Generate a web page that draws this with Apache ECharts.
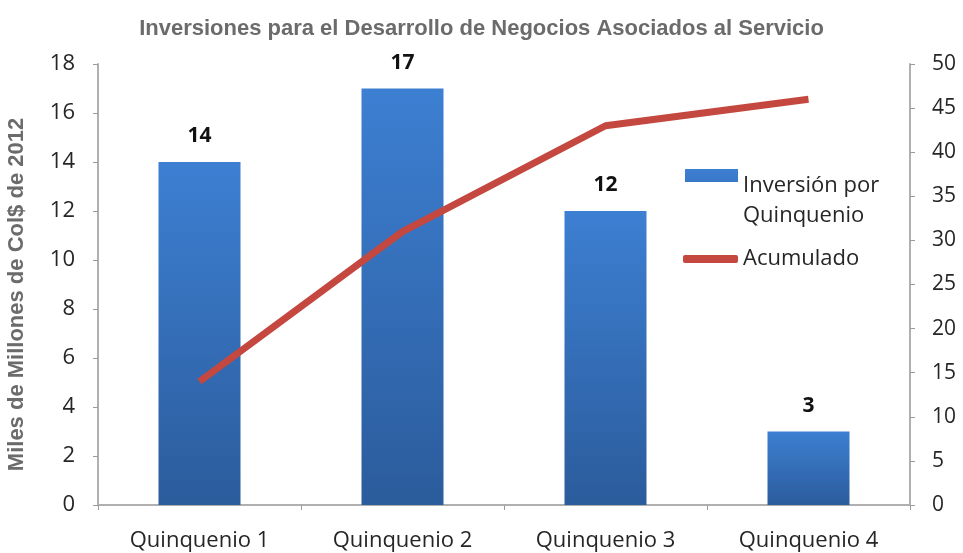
<!DOCTYPE html>
<html><head><meta charset="utf-8">
<script src="https://cdn.jsdelivr.net/npm/echarts@6/dist/echarts.min.js"></script>
<style>html,body{margin:0;padding:0;background:#fff}#c{width:963px;height:553px}</style>
</head><body><div id="c"></div>
<script>
const categories = ['Quinquenio 1','Quinquenio 2','Quinquenio 3','Quinquenio 4'];
const inversion = [14, 17, 12, 3];
const acumulado = [14, 31, 43, 46];
const leftTicks = {min:0, max:18, interval:2};
const rightTicks = {min:0, max:50, interval:5};

const chart = echarts.init(document.getElementById('c'));
chart.setOption({
  animation:false,
  title:{text:'Inversiones para el Desarrollo de Negocios Asociados al Servicio', left:'center', top:13,
    textStyle:{fontFamily:'Liberation Sans', fontWeight:'bold', fontSize:22, color:'#6b6b6b'}},
  grid:{left:98, right:53, top:64, bottom:48, containLabel:false, outerBoundsMode:'none'},
  legend:[
    {data:[{name:'Inversión por\nQuinquenio', icon:'path://M0,0L53,0L53,13L0,13Z M0,64L0.01,64L0,64Z'}], left:680, top:164, itemWidth:53, itemHeight:64, itemGap:4,
     textStyle:{fontFamily:'Open Sans', fontSize:22, color:'#262626', lineHeight:30}},
    {data:[{name:'Acumulado', icon:'roundRect'}], left:678, top:243, itemWidth:55, itemHeight:8, itemGap:4,
     textStyle:{fontFamily:'Open Sans', fontSize:22, color:'#262626'}}
  ],
  xAxis:{type:'category', data:categories,
    axisLine:{lineStyle:{color:'#b0b0b0', width:2}},
    axisTick:{show:true, length:5, lineStyle:{color:'#9a9a9a'}},
    axisLabel:{margin:25, fontFamily:'Open Sans', fontSize:22, color:'#262626'}},
  yAxis:[
    {type:'value', min:leftTicks.min, max:leftTicks.max, interval:leftTicks.interval,
     name:'Miles de Millones de Col$ de 2012', nameLocation:'middle', nameGap:70, nameRotate:90,
     nameTextStyle:{fontFamily:'Liberation Sans', fontWeight:'bold', fontSize:22, color:'#6b6b6b', padding:[0,20,0,0]},
     axisLine:{show:true, lineStyle:{color:'#b0b0b0', width:2}},
     axisTick:{show:true, length:5, lineStyle:{color:'#9a9a9a'}},
     splitLine:{show:false},
     axisLabel:{margin:23, fontFamily:'Open Sans', fontSize:22, color:'#262626'}},
    {type:'value', min:rightTicks.min, max:rightTicks.max, interval:rightTicks.interval, position:'right',
     axisLine:{show:true, lineStyle:{color:'#b0b0b0', width:2}},
     axisTick:{show:true, length:5, lineStyle:{color:'#9a9a9a'}},
     splitLine:{show:false},
     axisLabel:{margin:22, fontFamily:'Open Sans', fontSize:21, color:'#262626'}}
  ],
  series:[
    {name:'Inversión por\nQuinquenio', type:'bar', data:inversion, barWidth:82, yAxisIndex:0,
     itemStyle:{color:new echarts.graphic.LinearGradient(0,0,0,1,[{offset:0,color:'#3d7fd2'},{offset:1,color:'#2b5c9c'}])},
     label:{show:true, position:'top', distance:15, fontFamily:'Open Sans', fontWeight:'bold', fontSize:21, color:'#111'}},
    {name:'Acumulado', type:'line', data:acumulado, yAxisIndex:1, symbol:'none',
     lineStyle:{color:'#c4483f', width:7}, itemStyle:{color:'#c4483f'}}
  ]
});
</script></body></html>
